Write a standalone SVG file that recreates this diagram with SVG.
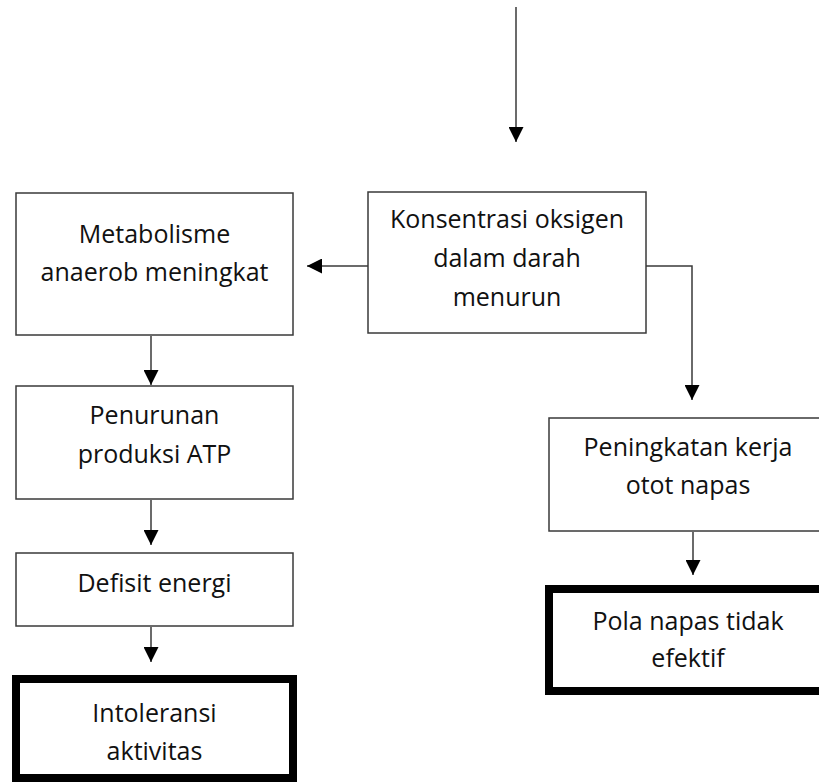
<svg xmlns="http://www.w3.org/2000/svg" width="819" height="782" viewBox="0 0 819 782">
  <style>
    .box { fill: #ffffff; stroke: #3a3a3a; stroke-width: 1.5; }
    .bold { fill: #ffffff; stroke: #000000; stroke-width: 8; }
    .lbl { font-family: "Open Sans", "Noto Sans", "DejaVu Sans", sans-serif; font-size: 25px; fill: #111111; text-anchor: middle; }
    .edge { fill: none; stroke: #3a3a3a; stroke-width: 1.5; marker-end: url(#head); }
  </style>
  <defs>
    <marker id="head" markerUnits="userSpaceOnUse" markerWidth="15" markerHeight="15" refX="15" refY="7.5" orient="auto">
      <path d="M0,0 L15,7.5 L0,15 Z" fill="#000000"/>
    </marker>
  </defs>

  <!-- connectors -->
  <g id="connectors">
    <path class="edge" d="M516,7 V142"/>
    <path class="edge" d="M368,266 H307"/>
    <path class="edge" d="M646,266 H692 V400"/>
    <path class="edge" d="M151,336 V385"/>
    <path class="edge" d="M151,500 V545"/>
    <path class="edge" d="M151,627 V662"/>
    <path class="edge" d="M693,532 V575"/>
  </g>

  <!-- central cause -->
  <g id="konsentrasi">
    <rect class="box" x="368" y="192" width="278" height="141"/>
    <text class="lbl" x="507" y="228">Konsentrasi oksigen</text>
    <text class="lbl" x="507" y="267">dalam darah</text>
    <text class="lbl" x="507" y="306">menurun</text>
  </g>

  <!-- left branch -->
  <g id="metabolisme">
    <rect class="box" x="16" y="193" width="277" height="142"/>
    <text class="lbl" x="154.5" y="243">Metabolisme</text>
    <text class="lbl" x="154.5" y="281">anaerob meningkat</text>
  </g>
  <g id="penurunan">
    <rect class="box" x="16" y="386" width="277" height="113"/>
    <text class="lbl" x="154.5" y="424">Penurunan</text>
    <text class="lbl" x="154.5" y="463">produksi ATP</text>
  </g>
  <g id="defisit">
    <rect class="box" x="16" y="553" width="277" height="73"/>
    <text class="lbl" x="154.5" y="592">Defisit energi</text>
  </g>
  <g id="intoleransi">
    <rect class="bold" x="16" y="679" width="277" height="99"/>
    <text class="lbl" x="154.5" y="722">Intoleransi</text>
    <text class="lbl" x="154.5" y="760">aktivitas</text>
  </g>

  <!-- right branch -->
  <g id="peningkatan">
    <rect class="box" x="549" y="418" width="278" height="113"/>
    <text class="lbl" x="688" y="456">Peningkatan kerja</text>
    <text class="lbl" x="688" y="494">otot napas</text>
  </g>
  <g id="pola">
    <rect class="bold" x="549" y="589" width="278" height="102"/>
    <text class="lbl" x="688" y="630">Pola napas tidak</text>
    <text class="lbl" x="688" y="667">efektif</text>
  </g>
</svg>
